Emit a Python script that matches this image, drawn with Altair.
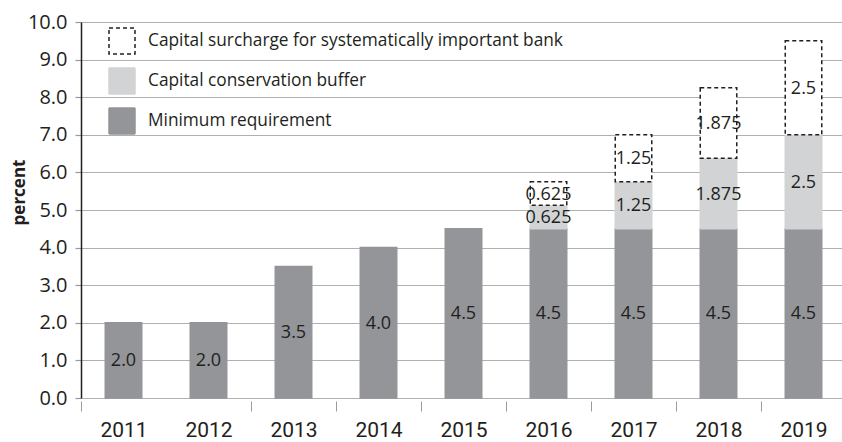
import altair as alt
import pandas as pd

years = ["2011", "2012", "2013", "2014", "2015", "2016", "2017", "2018", "2019"]
minimum = [2.0, 2.0, 3.5, 4.0, 4.5, 4.5, 4.5, 4.5, 4.5]
buffer = [0, 0, 0, 0, 0, 0.625, 1.25, 1.875, 2.5]
surcharge = [0, 0, 0, 0, 0, 0.625, 1.25, 1.875, 2.5]
components = [
    "Capital surcharge for systematically important bank",
    "Capital conservation buffer",
    "Minimum requirement",
]
fills = ["#ffffff", "#d1d3d4", "#939598"]
strokes = ["#231f20", "#d1d3d4", "#939598"]
dashes = [[4, 3], [1, 0], [1, 0]]

rows = []
for i, yr in enumerate(years):
    base = 0.0
    for comp, vals, fmt in [
        (components[2], minimum, "{:.1f}"),
        (components[1], buffer, "{:g}"),
        (components[0], surcharge, "{:g}"),
    ]:
        v = vals[i]
        if v > 0:
            rows.append(dict(year=yr, component=comp, start=base, end=base + v,
                             mid=base + v / 2, label=fmt.format(v)))
        base += v
df = pd.DataFrame(rows)

TXT = "#231f20"
xscale = alt.Scale(domain=years, range=[0, 765], paddingInner=0, paddingOuter=0)
yscale = alt.Scale(domain=[0, 10], nice=False)

xaxis = alt.Axis(title=None, labelAngle=0, domain=False, tickBand="extent",
                 tickColor="#9a9a9a", tickSize=10, tickWidth=1, offset=3,
                 tickOpacity={"condition": {"test": "datum.value === '2011'", "value": 0}, "value": 1},
                 labelFont="Roboto", labelFontSize=21,
                 labelColor=TXT, labelPadding=8, grid=False)
yaxis = alt.Axis(title="percent", values=list(range(11)), format=".1f",
                 grid=True, gridColor="#b0b0b0", gridWidth=1.2,
                 domainColor=TXT, domainWidth=1.5,
                 tickColor="#9a9a9a", tickSize=6, tickWidth=1.2,
                 labelFont="Open Sans", labelFontSize=20, labelColor=TXT,
                 labelPadding=8,
                 titleFont="Open Sans", titleFontSize=17, titleFontWeight="bold",
                 titleColor=TXT, titleX=-62, titleY=170, titleAlign="center",
                 titleBaseline="middle", titleAngle=270)


def leg():
    return alt.Legend(orient="none", legendX=27, legendY=5, title=None,
                      symbolType="square", symbolSize=676,
                      symbolStrokeWidth=1.5, labelFont="Open Sans",
                      labelFontSize=17.3, labelColor=TXT, labelOffset=12,
                      rowPadding=8, padding=0, labelLimit=600)


bars = alt.Chart(df).mark_bar(strokeWidth=1.5, width=36.5).encode(
    x=alt.X("year:N", scale=xscale, sort=years, axis=xaxis),
    y=alt.Y("start:Q", scale=yscale, axis=yaxis),
    y2="end:Q",
    fill=alt.Fill("component:N", scale=alt.Scale(domain=components, range=fills), legend=leg()),
    stroke=alt.Stroke("component:N", scale=alt.Scale(domain=components, range=strokes), legend=leg()),
    strokeDash=alt.StrokeDash("component:N", scale=alt.Scale(domain=components, range=dashes), legend=leg()),
)

labels = alt.Chart(df).mark_text(font="Open Sans", fontSize=18, color=TXT, dy=1).encode(
    x=alt.X("year:N", scale=xscale, sort=years, axis=xaxis),
    y=alt.Y("mid:Q", scale=yscale, axis=yaxis),
    text="label:N",
)

chart = alt.layer(bars, labels).properties(
    width=761, height=376,
    padding={"left": 81, "top": 22, "right": 0, "bottom": 44},
    autosize="none",
    background="white",
).configure_view(stroke=None)

chart.save("out.html", embed_options={"renderer": "svg", "actions": False})
